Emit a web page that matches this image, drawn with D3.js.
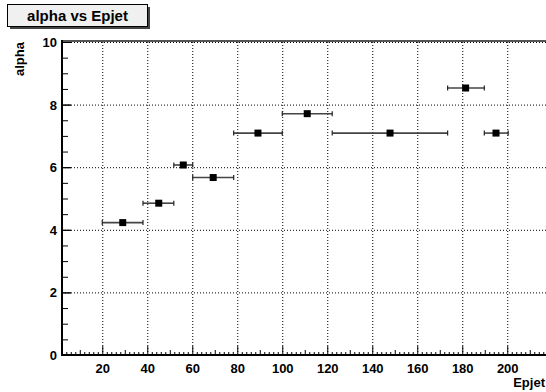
<!DOCTYPE html>
<html><head><meta charset="utf-8">
<script src="https://cdn.jsdelivr.net/npm/d3@7"></script>
<style>body{margin:0;background:#fff}svg{display:block}text{font-family:"Liberation Sans",Arial,sans-serif;font-weight:bold}</style>
</head><body><svg id="c" width="546" height="392"></svg>
<script>
const xVals = [29.1,45.1,56.0,69.3,89.2,111.1,147.9,181.5,195.0];
const yVals = [4.23,4.85,6.07,5.67,7.09,7.71,7.09,8.53,7.09];
const xLow  = [20,38.1,51.8,60.2,78.4,100,122.2,173.5,189.8];
const xHigh = [38.1,51.8,60.2,78.4,100,122.2,173.5,189.8,200.4];
const xTicks = [20,40,60,80,100,120,140,160,180,200];
const yTicks = [0,2,4,6,8,10];
const title = "alpha vs Epjet", xTitle = "Epjet", yTitle = "alpha";

const svg = d3.select("#c");
const L=62, T=42, B=355, R=550;
const x = d3.scaleLinear().domain([2.1,219]).range([L,R]);
const y = d3.scaleLinear().domain([0,10]).range([B,T]);

// grid
const g = svg.append("g");
g.selectAll(".gx").data(xTicks).join("line")
 .attr("x1",d=>x(d)+0.5).attr("x2",d=>x(d)+0.5).attr("y1",T).attr("y2",B)
 .attr("stroke","#000").attr("stroke-width",1).attr("stroke-dasharray","1,2");
g.selectAll(".gy").data(yTicks.filter(d=>d>0)).join("line")
 .attr("x1",L).attr("x2",R).attr("y1",d=>y(d)+0.5).attr("y2",d=>y(d)+0.5)
 .attr("stroke","#000").attr("stroke-width",1).attr("stroke-dasharray","1,2");

// x ticks (inward)
const xMinor = d3.range(4,219,2);
g.selectAll(".tx").data(xMinor).join("line")
 .attr("x1",d=>x(d)+0.5).attr("x2",d=>x(d)+0.5).attr("y1",B)
 .attr("y2",d=>B-(d%20===0?9:(d%10===0?5:3)))
 .attr("stroke","#000").attr("stroke-width",1);
// y ticks
const yMinor = d3.range(0.5,10,0.5);
g.selectAll(".ty").data(yMinor.concat(yTicks)).join("line")
 .attr("y1",d=>y(d)+0.5).attr("y2",d=>y(d)+0.5).attr("x1",L)
 .attr("x2",d=>L+(d%2===0?9:6))
 .attr("stroke","#000").attr("stroke-width",1);

// frame
svg.append("line").attr("x1",L).attr("x2",R).attr("y1",T-1).attr("y2",T-1).attr("stroke","#555").attr("stroke-width",2);
svg.append("line").attr("x1",L).attr("x2",L).attr("y1",T-2).attr("y2",B+1).attr("stroke","#000").attr("stroke-width",2);
svg.append("line").attr("x1",L-1).attr("x2",R).attr("y1",B).attr("y2",B).attr("stroke","#000").attr("stroke-width",2);

// tick labels
svg.selectAll(".lx").data(xTicks).join("text")
 .attr("x",d=>x(d)+0.5).attr("y",373).attr("text-anchor","middle").attr("font-size",13).text(d=>d);
svg.selectAll(".ly").data(yTicks).join("text")
 .attr("x",57).attr("y",d=>y(d)+5).attr("text-anchor","end").attr("font-size",13).text(d=>d);

// axis titles
svg.append("text").attr("x",545).attr("y",387).attr("text-anchor","end").attr("font-size",13).text(xTitle);
svg.append("text").attr("transform","translate(24,"+(T)+") rotate(-90)").attr("text-anchor","end").attr("font-size",13).text(yTitle);

// data
const idx = d3.range(xVals.length);
const eb = svg.append("g");
eb.selectAll(".e").data(idx).join("line")
 .attr("x1",i=>x(xLow[i])).attr("x2",i=>x(xHigh[i])).attr("y1",i=>y(yVals[i])).attr("y2",i=>y(yVals[i]))
 .attr("stroke","#444").attr("stroke-width",1.6);
eb.selectAll(".c1").data(idx).join("line")
 .attr("x1",i=>x(xLow[i])).attr("x2",i=>x(xLow[i])).attr("y1",i=>y(yVals[i])-2.5).attr("y2",i=>y(yVals[i])+2.5)
 .attr("stroke","#222").attr("stroke-width",1.2);
eb.selectAll(".c2").data(idx).join("line")
 .attr("x1",i=>x(xHigh[i])).attr("x2",i=>x(xHigh[i])).attr("y1",i=>y(yVals[i])-2.5).attr("y2",i=>y(yVals[i])+2.5)
 .attr("stroke","#222").attr("stroke-width",1.2);
eb.selectAll(".m").data(idx).join("rect")
 .attr("x",i=>x(xVals[i])-3.5).attr("y",i=>y(yVals[i])-3.5).attr("width",7).attr("height",7).attr("fill","#000");

// title box
svg.append("rect").attr("x",10).attr("y",7).attr("width",140).attr("height",22).attr("fill","#444");
svg.append("rect").attr("x",7.5).attr("y",4.5).attr("width",140).attr("height",22).attr("fill","#f0f0f0").attr("stroke","#000").attr("stroke-width",1);
svg.append("text").attr("x",77.5).attr("y",21).attr("text-anchor","middle").attr("font-size",15).text(title);
</script></body></html>
